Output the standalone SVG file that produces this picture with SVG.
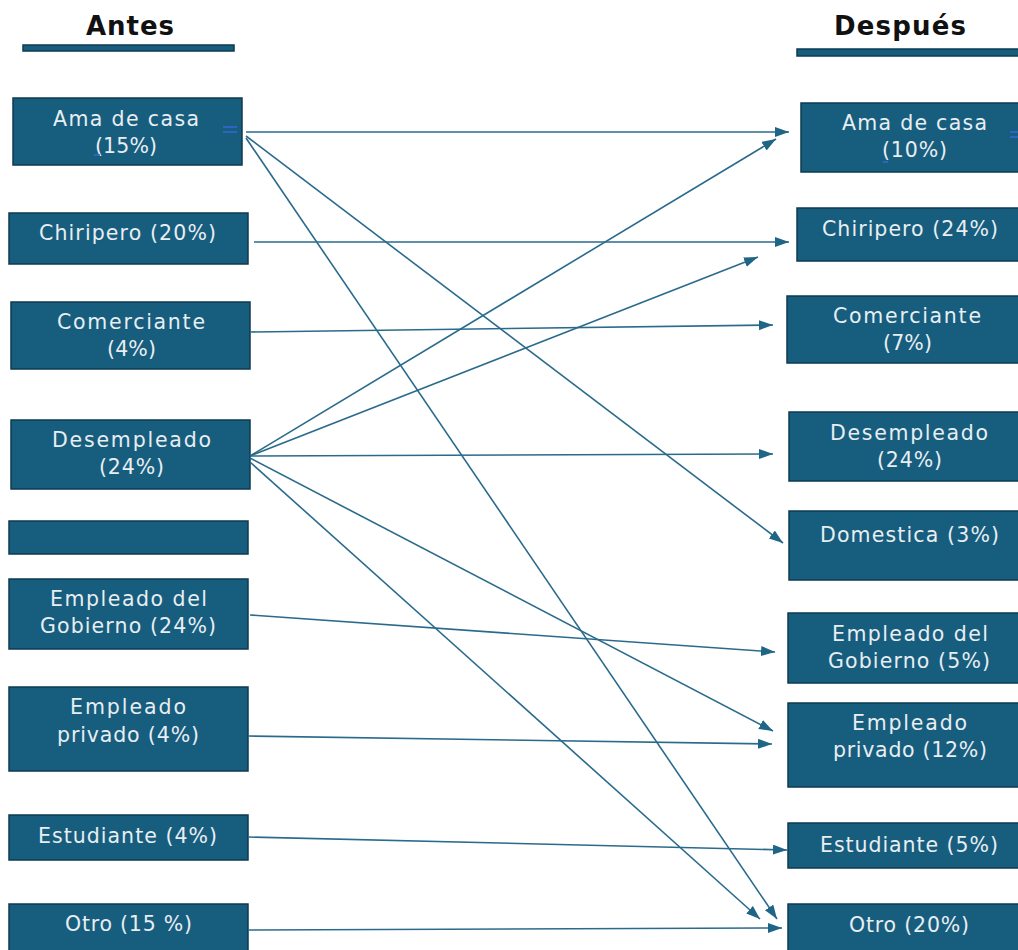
<svg xmlns="http://www.w3.org/2000/svg" width="1018" height="950" viewBox="0 0 1018 950">
  <style>
    .box { fill: #175d7e; stroke: #0e3a50; stroke-width: 1.5; }
    .lbl { font-family: "DejaVu Sans", "Liberation Sans", sans-serif; font-size: 20.5px; fill: #e8eef2; text-anchor: middle; }
    .hdr { font-family: "DejaVu Sans", "Liberation Sans", sans-serif; font-size: 26px; font-weight: bold; fill: #111111; text-anchor: middle; }
    .conn { stroke: #2a6b8c; stroke-width: 1.6; fill: none; marker-end: url(#arrow); }
    .mark { stroke: #3467d0; stroke-width: 1.6; }
  </style>
  <defs>
    <marker id="arrow" markerUnits="userSpaceOnUse" markerWidth="15" markerHeight="11" refX="14" refY="5" orient="auto">
      <path d="M0,0 L14,5 L0,10 z" fill="#1f6585"/>
    </marker>
  </defs>

  <rect width="1018" height="950" fill="#ffffff"/>

  <!-- column headings -->
  <g id="header-antes">
    <text class="hdr" x="130" y="35" textLength="88">Antes</text>
    <rect class="box" x="23" y="45" width="211" height="6"/>
  </g>
  <g id="header-despues">
    <text class="hdr" x="900" y="35" textLength="132">Después</text>
    <rect class="box" x="797" y="49" width="230" height="7"/>
  </g>

  <!-- left column: before -->
  <g id="antes-ama-de-casa">
    <rect class="box" x="13" y="98" width="229" height="67"/>
    <text class="lbl" x="126" y="126" textLength="146">Ama de casa</text>
    <text class="lbl" x="126" y="153" textLength="62">(15%)</text>
    <line class="mark" x1="223" y1="127" x2="237" y2="127"/>
    <line class="mark" x1="223" y1="132" x2="237" y2="132"/>
    <line class="mark" x1="94" y1="155" x2="100" y2="155"/>
  </g>
  <g id="antes-chiripero">
    <rect class="box" x="9" y="213" width="239" height="51"/>
    <text class="lbl" x="127.5" y="240" textLength="177">Chiripero (20%)</text>
  </g>
  <g id="antes-comerciante">
    <rect class="box" x="11" y="302" width="239" height="67"/>
    <text class="lbl" x="131" y="329" textLength="148">Comerciante</text>
    <text class="lbl" x="131.5" y="356" textLength="49">(4%)</text>
  </g>
  <g id="antes-desempleado">
    <rect class="box" x="11" y="420" width="239" height="69"/>
    <text class="lbl" x="131.5" y="447" textLength="159">Desempleado</text>
    <text class="lbl" x="131.5" y="474" textLength="65">(24%)</text>
  </g>
  <g id="antes-vacio">
    <rect class="box" x="9" y="521" width="239" height="33"/>
  </g>
  <g id="antes-empleado-gobierno">
    <rect class="box" x="9" y="579" width="239" height="70"/>
    <text class="lbl" x="128.5" y="606" textLength="157">Empleado del</text>
    <text class="lbl" x="128" y="633" textLength="176">Gobierno (24%)</text>
  </g>
  <g id="antes-empleado-privado">
    <rect class="box" x="9" y="687" width="239" height="84"/>
    <text class="lbl" x="128" y="714" textLength="116">Empleado</text>
    <text class="lbl" x="128" y="742" textLength="142">privado (4%)</text>
  </g>
  <g id="antes-estudiante">
    <rect class="box" x="9" y="815" width="239" height="45"/>
    <text class="lbl" x="127.5" y="843" textLength="179">Estudiante (4%)</text>
  </g>
  <g id="antes-otro">
    <rect class="box" x="9" y="904" width="239" height="56"/>
    <text class="lbl" x="128.5" y="931" textLength="127">Otro (15 %)</text>
  </g>

  <!-- right column: after -->
  <g id="despues-ama-de-casa">
    <rect class="box" x="801" y="103" width="230" height="69"/>
    <text class="lbl" x="914.5" y="130" textLength="145">Ama de casa</text>
    <text class="lbl" x="914.5" y="157" textLength="65">(10%)</text>
    <line class="mark" x1="1010" y1="132" x2="1018" y2="132"/>
    <line class="mark" x1="1010" y1="137" x2="1018" y2="137"/>
    <line class="mark" x1="883" y1="162" x2="888" y2="162"/>
  </g>
  <g id="despues-chiripero">
    <rect class="box" x="797" y="208" width="230" height="53"/>
    <text class="lbl" x="910" y="236" textLength="176">Chiripero (24%)</text>
  </g>
  <g id="despues-comerciante">
    <rect class="box" x="787" y="296" width="240" height="67"/>
    <text class="lbl" x="907" y="323" textLength="148">Comerciante</text>
    <text class="lbl" x="907.5" y="350" textLength="49">(7%)</text>
  </g>
  <g id="despues-desempleado">
    <rect class="box" x="789" y="412" width="240" height="69"/>
    <text class="lbl" x="909" y="440" textLength="158">Desempleado</text>
    <text class="lbl" x="909.5" y="467" textLength="65">(24%)</text>
  </g>
  <g id="despues-domestica">
    <rect class="box" x="789" y="511" width="240" height="69"/>
    <text class="lbl" x="909.5" y="542" textLength="179">Domestica (3%)</text>
  </g>
  <g id="despues-empleado-gobierno">
    <rect class="box" x="788" y="613" width="240" height="70"/>
    <text class="lbl" x="910" y="641" textLength="156">Empleado del</text>
    <text class="lbl" x="909" y="668" textLength="162">Gobierno (5%)</text>
  </g>
  <g id="despues-empleado-privado">
    <rect class="box" x="788" y="703" width="240" height="84"/>
    <text class="lbl" x="909.5" y="730" textLength="115">Empleado</text>
    <text class="lbl" x="910" y="757" textLength="154">privado (12%)</text>
  </g>
  <g id="despues-estudiante">
    <rect class="box" x="788" y="823" width="240" height="45"/>
    <text class="lbl" x="909" y="852" textLength="178">Estudiante (5%)</text>
  </g>
  <g id="despues-otro">
    <rect class="box" x="788" y="904" width="240" height="56"/>
    <text class="lbl" x="909" y="932" textLength="120">Otro (20%)</text>
  </g>

  <!-- transitions -->
  <g id="connectors">
    <line class="conn" x1="246" y1="132" x2="789" y2="132"/>
    <line class="conn" x1="246" y1="136" x2="783" y2="543"/>
    <line class="conn" x1="246" y1="138" x2="777" y2="919"/>
    <line class="conn" x1="254" y1="242" x2="789" y2="242"/>
    <line class="conn" x1="250" y1="332" x2="773" y2="325"/>
    <line class="conn" x1="250" y1="456" x2="776" y2="139"/>
    <line class="conn" x1="250" y1="456" x2="758" y2="257"/>
    <line class="conn" x1="250" y1="456" x2="773" y2="454"/>
    <line class="conn" x1="250" y1="458" x2="773" y2="731"/>
    <line class="conn" x1="250" y1="462" x2="760" y2="919"/>
    <line class="conn" x1="250" y1="615" x2="775" y2="652"/>
    <line class="conn" x1="248" y1="736" x2="772" y2="744"/>
    <line class="conn" x1="248" y1="837" x2="787" y2="850"/>
    <line class="conn" x1="248" y1="930" x2="782" y2="928"/>
  </g>
</svg>
